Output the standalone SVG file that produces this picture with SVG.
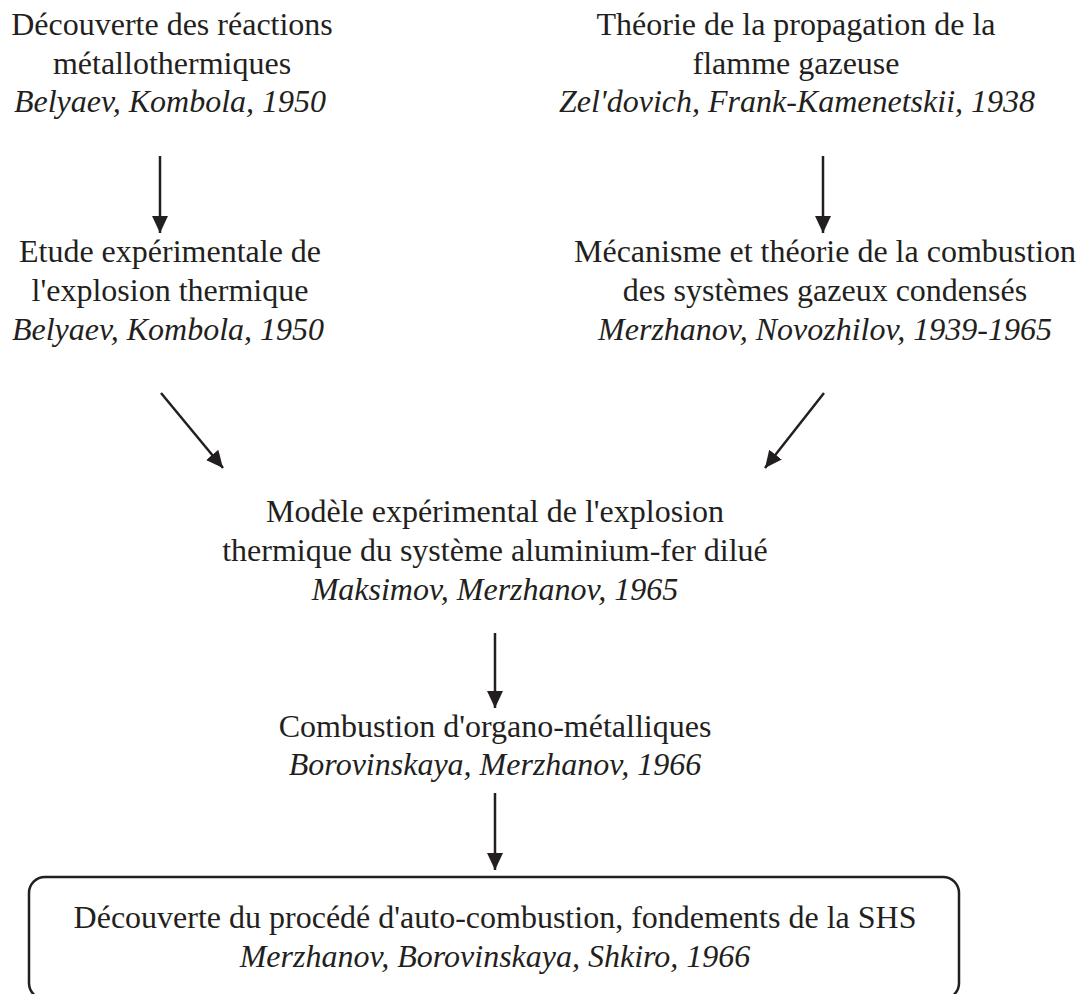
<svg xmlns="http://www.w3.org/2000/svg" width="1087" height="994" viewBox="0 0 1087 994" font-family="'Liberation Serif', 'Times New Roman', serif">
  <defs>
    <style>
      text { font-family: 'Liberation Serif', 'Times New Roman', serif; font-size: 32px; fill: #231f20; text-anchor: middle; }
      .it { font-style: italic; }
      .link { stroke: #231f20; stroke-width: 2.5; fill: none; }
      .frame { stroke: #231f20; stroke-width: 2.5; fill: none; }
    </style>
    <marker id="head" markerUnits="userSpaceOnUse" markerWidth="18" markerHeight="18" viewBox="0 0 18 18" refX="17" refY="9" orient="auto">
      <path d="M0,1 L17,9 L0,17 Z" fill="#231f20"/>
    </marker>
  </defs>

  <rect width="1087" height="994" fill="#ffffff"/>

  <g id="connectors">
    <line class="link" x1="160" y1="156" x2="160" y2="233" marker-end="url(#head)"/>
    <line class="link" x1="823" y1="156" x2="823" y2="233" marker-end="url(#head)"/>
    <line class="link" x1="161" y1="393" x2="223" y2="468" marker-end="url(#head)"/>
    <line class="link" x1="824" y1="393" x2="765" y2="468" marker-end="url(#head)"/>
    <line class="link" x1="495" y1="633" x2="495" y2="708" marker-end="url(#head)"/>
    <line class="link" x1="495" y1="793" x2="495" y2="870" marker-end="url(#head)"/>
  </g>

  <g id="metallothermic">
    <text x="172" y="35">Découverte des réactions</text>
    <text x="172" y="74">métallothermiques</text>
    <text class="it" x="170" y="112">Belyaev, Kombola, 1950</text>
  </g>

  <g id="flame-theory">
    <text x="796" y="35">Théorie de la propagation de la</text>
    <text x="796" y="74">flamme gazeuse</text>
    <text class="it" x="797" y="112">Zel'dovich, Frank-Kamenetskii, 1938</text>
  </g>

  <g id="thermal-explosion">
    <text x="170" y="262">Etude expérimentale de</text>
    <text x="170" y="301">l'explosion thermique</text>
    <text class="it" x="168" y="340">Belyaev, Kombola, 1950</text>
  </g>

  <g id="condensed-combustion">
    <text x="825" y="262">Mécanisme et théorie de la combustion</text>
    <text x="825" y="301">des systèmes gazeux condensés</text>
    <text class="it" x="825" y="340">Merzhanov, Novozhilov, 1939-1965</text>
  </g>

  <g id="al-fe-model">
    <text x="495" y="522">Modèle expérimental de l'explosion</text>
    <text x="495" y="561">thermique du système aluminium-fer dilué</text>
    <text class="it" x="495" y="600">Maksimov, Merzhanov, 1965</text>
  </g>

  <g id="organometallic">
    <text x="495" y="737">Combustion d'organo-métalliques</text>
    <text class="it" x="495" y="775">Borovinskaya, Merzhanov, 1966</text>
  </g>

  <g id="shs">
    <rect class="frame" x="29" y="877" width="930" height="122" rx="16" ry="16"/>
    <text x="495" y="928">Découverte du procédé d'auto-combustion, fondements de la SHS</text>
    <text class="it" x="495" y="967">Merzhanov, Borovinskaya, Shkiro, 1966</text>
  </g>
</svg>
